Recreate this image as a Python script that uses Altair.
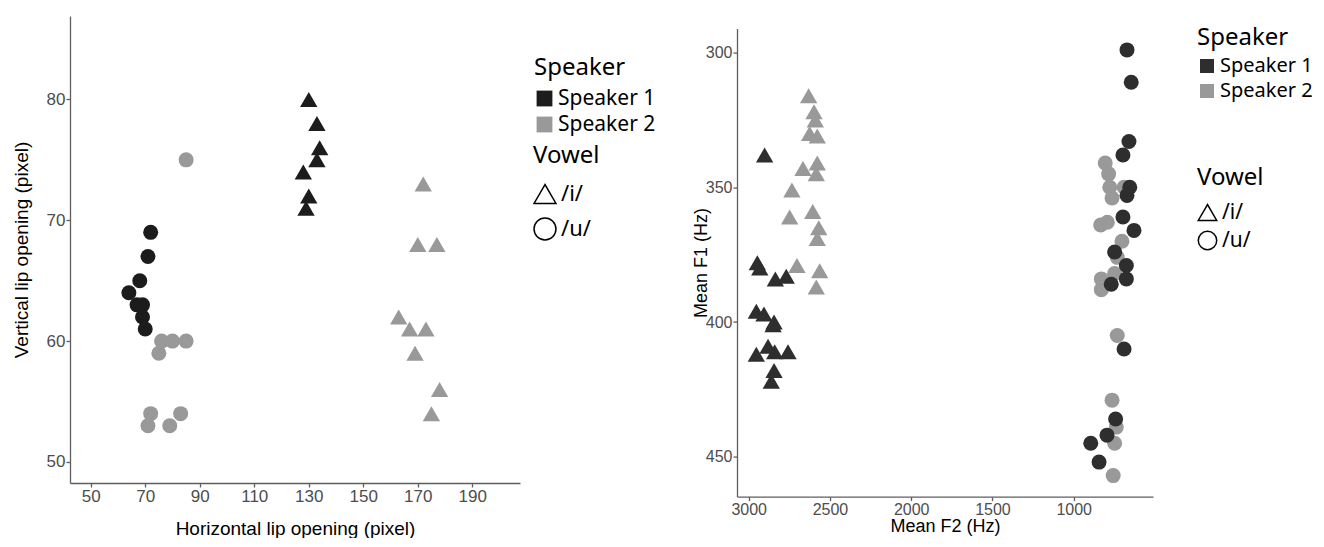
import altair as alt
import pandas as pd

# ---------------- Left panel: lip opening (pixel) ----------------
lip_s1_u_h = [72, 71, 68, 64, 67, 69, 69, 70]
lip_s1_u_v = [69, 67, 65, 64, 63, 63, 62, 61]
lip_s2_u_h = [85, 76, 80, 85, 75, 72, 83, 71, 79]
lip_s2_u_v = [75, 60, 60, 60, 59, 54, 54, 53, 53]
lip_s1_i_h = [130, 133, 134, 133, 128, 130, 129]
lip_s1_i_v = [80, 78, 76, 75, 74, 72, 71]
lip_s2_i_h = [172, 170, 177, 163, 167, 173, 169, 178, 175]
lip_s2_i_v = [73, 68, 68, 62, 61, 61, 59, 56, 54]

# ---------------- Right panel: formants (Hz) ----------------
f_s2_i_f2 = [2631, 2598, 2590, 2625, 2578, 2666, 2578, 2584, 2734, 2748, 2606, 2569, 2578, 2703, 2563, 2584]
f_s2_i_f1 = [316, 322, 325, 330, 331, 343, 341, 345, 351, 361, 359, 365, 369, 379, 381, 387]
f_s1_i_f2 = [2902, 2947, 2932, 2836, 2769, 2953, 2906, 2844, 2850, 2953, 2881, 2840, 2758, 2844, 2861]
f_s1_i_f1 = [338, 378, 380, 384, 383, 396, 397, 400, 401, 412, 409, 411, 411, 418, 422]
f_s1_u_f2 = [672, 646, 660, 697, 655, 672, 697, 629, 748, 676, 676, 769, 690, 742, 795, 895, 844]
f_s1_u_f1 = [299, 311, 333, 338, 350, 353, 361, 366, 374, 379, 384, 386, 410, 436, 442, 445, 452]
f_s2_u_f2 = [806, 785, 778, 764, 690, 834, 793, 703, 732, 830, 748, 830, 732, 764, 738, 748, 757]
f_s2_u_f1 = [341, 345, 350, 354, 350, 364, 363, 370, 376, 384, 382, 388, 405, 429, 439, 445, 457]

speakers = ["Speaker 1", "Speaker 2"]
vowels = ["/i/", "/u/"]

left_x_ticks = [50, 70, 90, 110, 130, 150, 170, 190]
left_y_ticks = [50, 60, 70, 80]
right_x_ticks = [1000, 1500, 2000, 2500, 3000]
right_y_ticks = [300, 350, 400, 450]


def block(xs, ys, spk, vow, xn, yn):
    return pd.DataFrame({xn: xs, yn: ys, "Speaker": spk, "Vowel": vow})


left_df = pd.concat([
    block(lip_s2_u_h, lip_s2_u_v, "Speaker 2", "/u/", "h", "v"),
    block(lip_s2_i_h, lip_s2_i_v, "Speaker 2", "/i/", "h", "v"),
    block(lip_s1_u_h, lip_s1_u_v, "Speaker 1", "/u/", "h", "v"),
    block(lip_s1_i_h, lip_s1_i_v, "Speaker 1", "/i/", "h", "v"),
], ignore_index=True)

right_df = pd.concat([
    block(f_s2_u_f2, f_s2_u_f1, "Speaker 2", "/u/", "f2", "f1"),
    block(f_s2_i_f2, f_s2_i_f1, "Speaker 2", "/i/", "f2", "f1"),
    block(f_s1_u_f2, f_s1_u_f1, "Speaker 1", "/u/", "f2", "f1"),
    block(f_s1_i_f2, f_s1_i_f1, "Speaker 1", "/i/", "f2", "f1"),
], ignore_index=True)

AXF = "Liberation Sans"
LGF = "Noto Sans"
LINE = "#5e5e5e"


def axis(values, title, lsize, tsize, tpad):
    return alt.Axis(values=values, title=title, format="d", grid=False, domainColor=LINE,
                    domainWidth=1.3, tickColor=LINE, tickWidth=1.3, tickSize=4, labelFont=AXF,
                    labelFontSize=lsize, labelColor="#4d4d4d", labelPadding=1, labelFlush=False,
                    labelOverlap=False, titleFont=AXF, titleFontSize=tsize,
                    titleFontWeight="normal", titleColor="black", titlePadding=tpad)


def spk_legend(x, y, size, tpad, lsize, rpad):
    return alt.Legend(orient="none", legendX=x, legendY=y, title="Speaker", symbolType="square",
                      symbolSize=size, symbolStrokeWidth=0, titleFont=LGF, titleFontSize=24,
                      titleFontWeight="normal", titleColor="black",
                      labelFont=LGF, labelFontSize=lsize, labelColor="black", labelOffset=3,
                      rowPadding=rpad, titlePadding=tpad, padding=0)


def vow_legend(x, y, size, rowpad, tpad, lsize):
    return alt.Legend(orient="none", legendX=x, legendY=y, title="Vowel", symbolSize=size,
                      symbolFillColor="white", symbolStrokeColor="black", symbolStrokeWidth=1.5,
                      titleFont=LGF, titleFontSize=24, titleFontWeight="normal", titleColor="black",
                      labelFont=LGF, labelFontSize=lsize, labelColor="black", labelOffset=4,
                      labelExpr="datum.label == '/i/' ? '\\u00a0' + datum.label : datum.label",
                      rowPadding=rowpad, titlePadding=tpad, padding=0)


shape_scale = alt.Scale(domain=vowels, range=["triangle-up", "circle"])
point_size = alt.condition(alt.datum.Vowel == "/i/", alt.value(300), alt.value(225))

left = alt.Chart(left_df).mark_point(filled=True, opacity=1, strokeWidth=0).encode(
    x=alt.X("h:Q", scale=alt.Scale(domain=[42.4, 207.5], nice=False, zero=False),
            axis=axis(left_x_ticks, "Horizontal lip opening (pixel)", 17, 19, 15)),
    y=alt.Y("v:Q", scale=alt.Scale(domain=[48.26, 86.9], nice=False, zero=False),
            axis=axis(left_y_ticks, "Vertical lip opening (pixel)", 17, 19, 15)),
    color=alt.Color("Speaker:N", scale=alt.Scale(domain=speakers, range=["#1c1c1c", "#999999"]),
                    legend=spk_legend(464, 40, 250, 8, 21, 4)),
    shape=alt.Shape("Vowel:N", scale=shape_scale, legend=vow_legend(463, 128, 480, 8, 14, 22)),
    size=point_size,
).properties(width=450, height=467)

right = alt.Chart(right_df).mark_point(filled=True, opacity=1, strokeWidth=0).encode(
    x=alt.X("f2:Q", scale=alt.Scale(domain=[512, 3072], reverse=True, nice=False, zero=False),
            axis=axis(right_x_ticks, "Mean F2 (Hz)", 16, 18, 0)),
    y=alt.Y("f1:Q", scale=alt.Scale(domain=[291.1, 464.8], reverse=True, nice=False, zero=False),
            axis=axis(right_y_ticks, "Mean F1 (Hz)", 16, 18, -5)),
    color=alt.Color("Speaker:N", scale=alt.Scale(domain=speakers, range=["#2e2e2e", "#999999"]),
                    legend=spk_legend(460, 10, 196, 6, 20, 5)),
    shape=alt.Shape("Vowel:N", scale=shape_scale, legend=vow_legend(460, 150, 340, 4, 12, 21)),
    size=point_size,
).properties(width=416, height=468)

# empty spacer that lowers the right panel relative to the left one
spacer = alt.Chart(pd.DataFrame({"s": [0]})).mark_rule(strokeWidth=0, opacity=0).encode(
    x=alt.value(0), x2=alt.value(1), y=alt.value(0)
).properties(width=1, height=1)

right_col = alt.vconcat(spacer, right, spacing=11.6)

chart = alt.hconcat(left, right_col, spacing=36).resolve_scale(
    color="independent", shape="independent"
).resolve_legend(color="independent", shape="independent").configure_view(stroke=None).properties(
    padding={"left": 4, "top": 8, "right": 0, "bottom": 0}
)

chart.save("out.html", embed_options={"renderer": "svg", "actions": False})
